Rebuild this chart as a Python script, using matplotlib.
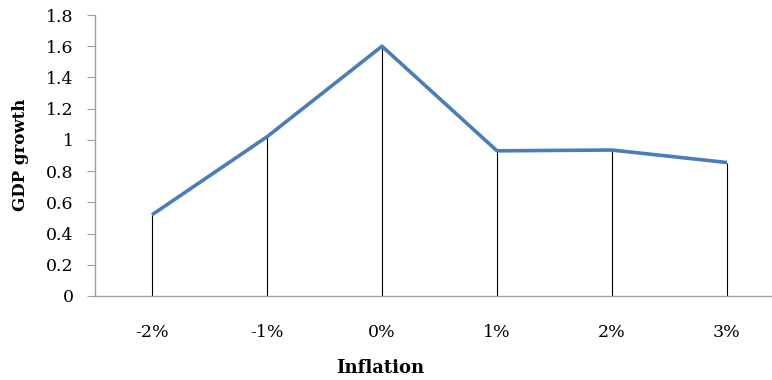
import matplotlib
matplotlib.use("Agg")
import matplotlib.pyplot as plt

categories = ["-2%", "-1%", "0%", "1%", "2%", "3%"]
gdp_growth = [0.52, 1.02, 1.60, 0.93, 0.935, 0.855]
y_ticks = [0, 0.2, 0.4, 0.6, 0.8, 1, 1.2, 1.4, 1.6, 1.8]
y_tick_labels = ["0", "0.2", "0.4", "0.6", "0.8", "1", "1.2", "1.4", "1.6", "1.8"]

plt.rcParams["font.family"] = ["DejaVu Serif"]

W, H = 772, 380
fig = plt.figure(figsize=(W / 100, H / 100), dpi=100)

# plot area in pixel coordinates (right edge runs past the canvas)
left, right, top, bottom = 94.5, 784.5, 15.0, 296.0
ax = fig.add_axes([left / W, 1 - bottom / H, (right - left) / W, (bottom - top) / H])

x = list(range(len(categories)))
ax.plot(x, gdp_growth, color="#4A7EBB", lw=2.6, solid_joinstyle="round",
        solid_capstyle="butt", zorder=3)
# drop lines from each point to the category axis
ax.vlines(x, 0, gdp_growth, color="black", lw=0.8, zorder=2)

ax.set_xlim(-0.5, len(categories) - 0.5)
ax.set_ylim(0, 1.8)
ax.set_yticks(y_ticks)
ax.set_yticklabels(y_tick_labels)
ax.set_xticks(x)
ax.set_xticklabels(categories)

for s in ("top", "right"):
    ax.spines[s].set_visible(False)
for s in ("left", "bottom"):
    ax.spines[s].set_color("#A0A0A0")
    ax.spines[s].set_linewidth(1.0)

ax.tick_params(axis="y", direction="out", length=6, color="#A0A0A0",
               labelsize=12.5, pad=9)
ax.tick_params(axis="x", length=0, labelsize=12.5, pad=20)

fig.text(380 / W, 1 - 368 / H, "Inflation", fontsize=13, fontweight="bold",
         ha="center", va="center")
fig.text(21 / W, 1 - 155 / H, "GDP growth", rotation=90, fontsize=12,
         fontweight="bold", ha="center", va="center")

fig.savefig("out.png", dpi=100)
